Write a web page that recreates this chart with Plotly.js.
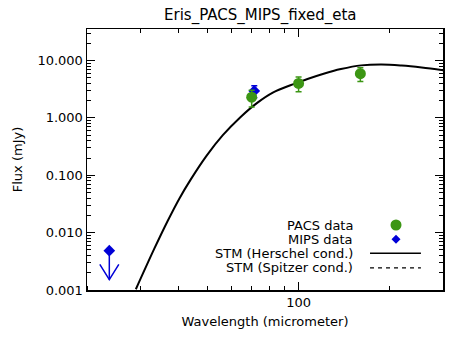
<!DOCTYPE html>
<html>
<head>
<meta charset="utf-8">
<script src="https://cdn.plot.ly/plotly-3.0.1.min.js"></script>
<style>
  html, body { margin: 0; padding: 0; background: #fff; }
  #chart { width: 469px; height: 346px; }
</style>
</head>
<body>
<div id="chart"></div>
<script>
// PACS photometry (micrometer, mJy)
const pacsWave = [70, 100, 160];
const pacsFlux = [2.3, 4.0, 5.9];
const pacsErr = [0.75, 1.15, 1.6];

// MIPS photometry
const mipsWave = [71.4];
const mipsFlux = [2.95];
const mipsErr = [0.7];

// MIPS 24 micron upper limit
const limWave = [23.7];
const limFlux = [0.00485];

// STM model curve (Herschel conditions)
const stmWave = [29, 33.4, 36.9, 40.4, 44, 49.7, 56.2, 64.1, 73, 82.5, 94, 100, 107, 121, 138, 161, 188, 219, 255, 301];
const stmFlux = [0.00103, 0.0053, 0.0158, 0.0395, 0.084, 0.22, 0.50, 1.02, 1.83, 2.79, 3.71, 4.18, 4.77, 5.90, 7.11, 8.24, 8.55, 8.18, 7.55, 6.75];

const legendNames = ['PACS data', 'MIPS data', 'STM (Herschel cond.)', 'STM (Spitzer cond.)'];

// tick positions
const yMajor = [0.001, 0.01, 0.1, 1, 10];
const yLabels = ['0.001', '0.010', '0.100', '1.000', '10.000'];
const xMajor = [100];
const xLabels = ['100'];

const green = 'rgb(60,150,20)';
const blue = 'rgb(0,0,215)';
const font = 'DejaVu Sans, sans-serif';

// minor ticks at 2..9 of every decade
const yMinor = [];
[0.001, 0.01, 0.1, 1, 10].forEach(d => { for (let k = 2; k <= 9; k++) yMinor.push(d * k); });
const xMinor = [];
[10, 100].forEach(d => { for (let k = 2; k <= 9; k++) xMinor.push(d * k); });

const xRange = [Math.log10(20), Math.log10(300)];
const yRange = [-3, 1.55];

// down arrow for the upper limit (stem + open V head)
const tip = limFlux.map(f => f / 3.2);
const arrowX = [], arrowY = [];
limWave.forEach((w, i) => {
    arrowX.push(w, w, null, w / 1.075, w, w * 1.075);
    arrowY.push(limFlux[i], tip[i], null, tip[i] * 1.85, tip[i], tip[i] * 1.85);
});

// invisible carriers for the extra tick-only axes
const carrier = (xa, ya) => ({
    x: stmWave, y: stmFlux, xaxis: xa, yaxis: ya, type: 'scatter', mode: 'lines',
    line: {color: 'rgba(0,0,0,0)', width: 0}, hoverinfo: 'skip'
});

const data = [
    carrier('x2', 'y2'),
    carrier('x3', 'y'),
    carrier('x4', 'y'),
    {
        x: stmWave, y: stmFlux, type: 'scatter', mode: 'lines',
        line: {color: 'black', width: 2, shape: 'spline'},
        name: legendNames[2]
    },
    {
        x: arrowX, y: arrowY, type: 'scatter', mode: 'lines',
        line: {color: blue, width: 1.5}, hoverinfo: 'skip'
    },
    {
        x: limWave, y: limFlux, type: 'scatter', mode: 'markers',
        marker: {symbol: 'diamond', size: 9, color: blue}
    },
    {
        x: mipsWave, y: mipsFlux, type: 'scatter', mode: 'markers',
        marker: {symbol: 'diamond', size: 9, color: blue},
        error_y: {type: 'data', array: mipsErr, color: blue, thickness: 1.5, width: 3},
        name: legendNames[1]
    },
    {
        x: pacsWave, y: pacsFlux, type: 'scatter', mode: 'markers',
        marker: {symbol: 'circle', size: 11, color: green},
        error_y: {type: 'data', array: pacsErr, color: green, thickness: 1.5, width: 3},
        name: legendNames[0]
    }
];

// hand-made legend, text right aligned with keys on the right
const rowsY = [0.249, 0.194, 0.141, 0.085];
const annotations = legendNames.map((t, i) => ({
    text: t, xref: 'paper', yref: 'paper', x: 0.753, y: rowsY[i],
    xanchor: 'right', yanchor: 'middle', showarrow: false,
    font: {family: font, size: 13, color: 'black'}
}));
const shapes = [
    {type: 'circle', xref: 'paper', yref: 'paper', xsizemode: 'pixel', ysizemode: 'pixel',
     xanchor: 0.868, yanchor: rowsY[0], x0: -5.5, x1: 5.5, y0: -5.5, y1: 5.5,
     fillcolor: green, line: {width: 0}},
    {type: 'path', xref: 'paper', yref: 'paper', xsizemode: 'pixel', ysizemode: 'pixel',
     xanchor: 0.868, yanchor: rowsY[1], path: 'M -4.5 0 L 0 4.5 L 4.5 0 L 0 -4.5 Z',
     fillcolor: blue, line: {width: 0}},
    {type: 'line', xref: 'paper', yref: 'paper', x0: 0.795, x1: 0.938, y0: rowsY[2], y1: rowsY[2],
     line: {color: 'black', width: 1.5}},
    {type: 'line', xref: 'paper', yref: 'paper', x0: 0.795, x1: 0.938, y0: rowsY[3], y1: rowsY[3],
     line: {color: 'black', width: 1.2, dash: '4px,4px'}}
];

const axisCommon = {
    showline: true, linecolor: 'black', linewidth: 1.5, mirror: 'ticks',
    ticks: 'inside', ticklen: 8, tickwidth: 1, tickcolor: 'black',
    showgrid: false, zeroline: false, tickmode: 'array',
    tickfont: {family: font, size: 13, color: 'black'}
};
const minorAxis = {
    type: 'log', tickmode: 'array', ticks: 'inside', ticklen: 4, tickwidth: 1, tickcolor: 'black',
    showticklabels: false, showgrid: false, zeroline: false, showline: false, mirror: 'ticks'
};
// bottom edge: a "top" axis sitting at the bottom, ticks pointing up into the plot
const bottomTicks = {
    type: 'log', overlaying: 'x', anchor: 'free', position: 0, side: 'top', range: xRange,
    tickmode: 'array', ticks: 'outside', tickwidth: 1, tickcolor: 'black',
    showticklabels: false, showgrid: false, zeroline: false, showline: false
};

const layout = {
    width: 469, height: 346,
    margin: {l: 87, r: 26, t: 29, b: 56},
    paper_bgcolor: 'white', plot_bgcolor: 'white',
    showlegend: false,
    title: {
        text: 'Eris_PACS_MIPS_fixed_eta',
        font: {family: font, size: 15, color: 'black'},
        x: 0.555, xanchor: 'center', y: 0.957, yanchor: 'middle'
    },
    xaxis: Object.assign({}, axisCommon, {
        type: 'log', range: xRange, anchor: 'y', side: 'bottom',
        tickvals: xMajor, ticktext: xLabels,
        title: {text: 'Wavelength (micrometer)', font: {family: font, size: 13, color: 'black'}, standoff: 8}
    }),
    yaxis: Object.assign({}, axisCommon, {
        type: 'log', range: yRange, anchor: 'x',
        tickvals: yMajor, ticktext: yLabels,
        title: {text: 'Flux (mJy)', font: {family: font, size: 13, color: 'black'}, standoff: 12}
    }),
    xaxis2: Object.assign({}, minorAxis, {overlaying: 'x', anchor: 'y', side: 'bottom', range: xRange, tickvals: xMinor}),
    yaxis2: Object.assign({}, minorAxis, {overlaying: 'y', anchor: 'x', side: 'left', range: yRange, tickvals: yMinor}),
    xaxis3: Object.assign({}, bottomTicks, {tickvals: xMajor, ticklen: 8}),
    xaxis4: Object.assign({}, bottomTicks, {tickvals: xMinor, ticklen: 4}),
    annotations: annotations,
    shapes: shapes
};

Plotly.newPlot('chart', data, layout, {displayModeBar: false, staticPlot: true});
</script>
</body>
</html>
